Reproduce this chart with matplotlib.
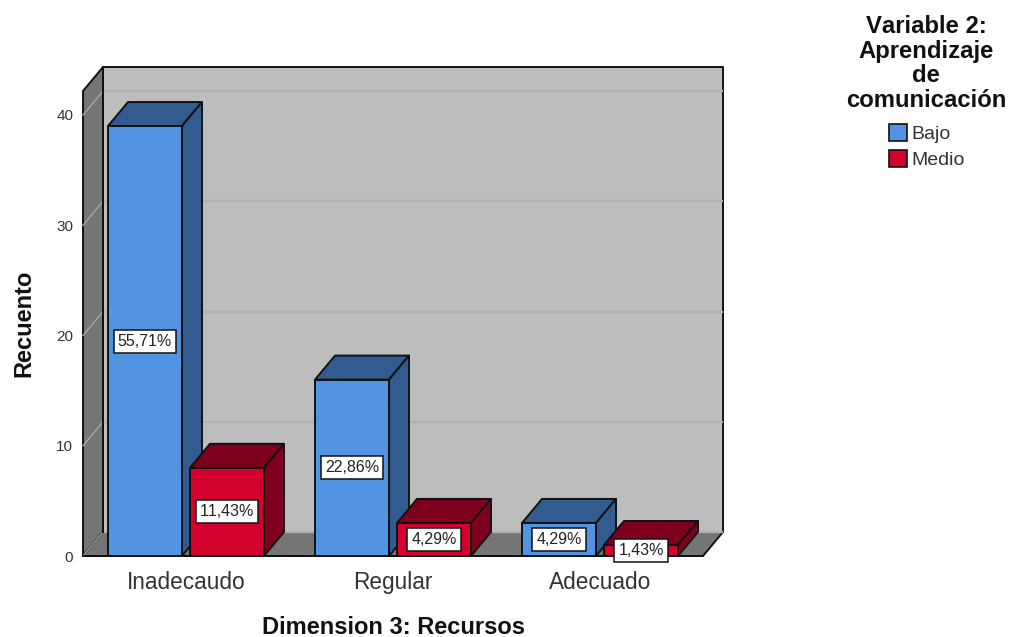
import matplotlib
matplotlib.use("Agg")
import matplotlib.pyplot as plt
from matplotlib.patches import Patch, Polygon

plt.rcParams["font.family"] = ["Liberation Sans", "DejaVu Sans"]
plt.rcParams["text.kerning_factor"] = 6

# ---------------------------------------------------------------------------
# Data
# ---------------------------------------------------------------------------
categories = ["Inadecaudo", "Regular", "Adecuado"]
series_names = ["Bajo", "Medio"]
bajo_counts = [39, 16, 3]
medio_counts = [8, 3, 1]
bajo_labels = ["55,71%", "22,86%", "4,29%"]
medio_labels = ["11,43%", "4,29%", "1,43%"]
y_ticks = [0, 10, 20, 30, 40]

# ---------------------------------------------------------------------------
# Style
# ---------------------------------------------------------------------------
W, H = 1009, 637
WALL = "#bdbdbd"
SIDE_WALL = "#757575"
GRID_BACK = "#b1b1b1"
GRID_SIDE = "#a8a8a8"
BLUE = ("#5294e2", "#325c8f")
RED = ("#d3002d", "#7f001c")
TEXT = "#333333"

fig = plt.figure(figsize=(W / 100, H / 100), dpi=100)
# front plane of the 3D box: 83..703 px across, 556..91 px up
ax = fig.add_axes([83 / W, 1 - 556 / H, 620 / W, 465 / H])

px_x = 207.0   # pixels per category
px_y = 11.025  # pixels per count
ax.set_xlim(-103 / px_x, 2 + 103 / px_x)
ax.set_ylim(0, 465 / px_y)

DX = 20 / px_x   # depth of the box
DY = 24 / px_y
BAR_W = 74 / px_x
GAP = 8 / px_x
X0, X1 = ax.get_xlim()
Y1 = ax.get_ylim()[1]


def poly(points, color, edge="#111111", lw=1.4, z=2):
    ax.add_patch(Polygon(points, closed=True, facecolor=color, edgecolor=edge,
                         linewidth=lw, joinstyle="round", clip_on=False, zorder=z))


# walls and floor
poly([(X0 + DX, DY), (X1 + DX, DY), (X1 + DX, Y1 + DY), (X0 + DX, Y1 + DY)], WALL)
poly([(X0, 0), (X0 + DX, DY), (X0 + DX, Y1 + DY), (X0, Y1)], SIDE_WALL)
poly([(X0, 0), (X1, 0), (X1 + DX, DY), (X0 + DX, DY)], SIDE_WALL)

for t in y_ticks:
    ax.plot([X0 + DX, X1 + DX - 0.004], [t + DY, t + DY], color=GRID_BACK, lw=1.6,
            clip_on=False, zorder=3)
    ax.plot([X0, X0 + DX], [t, t + DY], color=GRID_SIDE, lw=1.0,
            clip_on=False, zorder=3)
# wall edges go back over the grid lines
ax.plot([X0 + DX, X0 + DX], [DY, Y1 + DY], color="#111111", lw=1.4, clip_on=False, zorder=3)
ax.plot([X0, X1], [0, 0], color="#111111", lw=1.4, clip_on=False, zorder=3)


def bar3d(x, h, colors, z):
    x2 = x + BAR_W
    poly([(x, h), (x2, h), (x2 + DX, h + DY), (x + DX, h + DY)], colors[1], z=z)
    poly([(x2, 0), (x2 + DX, DY), (x2 + DX, h + DY), (x2, h)], colors[1], z=z)
    poly([(x, 0), (x2, 0), (x2, h), (x, h)], colors[0], z=z)


# bars, drawn left to right so nearer faces overlap the side faces
z = 4
for i, cat in enumerate(categories):
    for x, h, colors in [(i - GAP / 2 - BAR_W, bajo_counts[i], BLUE),
                         (i + GAP / 2, medio_counts[i], RED)]:
        bar3d(x, h, colors, z)
        z += 1

# percentage boxes stay on top of every bar
for i in range(len(categories)):
    for x, h, lab in [(i - GAP / 2 - BAR_W / 2, bajo_counts[i], bajo_labels[i]),
                      (i + GAP / 2 + BAR_W / 2, medio_counts[i], medio_labels[i])]:
        ax.text(x, h / 2, lab, ha="center", va="center", fontsize=11.5, color="#222222",
                zorder=30, clip_on=False,
                bbox=dict(boxstyle="square,pad=0.25", facecolor="white",
                          edgecolor="#111111", linewidth=1.1))

# axes, ticks, titles
for s in ax.spines.values():
    s.set_visible(False)
ax.patch.set_visible(False)
ax.set_yticks(y_ticks)
ax.set_xticks(range(len(categories)))
ax.set_xticklabels(categories, fontsize=16.3, color=TEXT)
ax.tick_params(axis="x", length=0, pad=11)
ax.tick_params(axis="y", length=0, pad=7, labelsize=11, labelcolor=TEXT)
ax.set_xlabel("Dimension 3: Recursos", fontsize=17, fontweight="bold", color="#111111")
ax.xaxis.set_label_coords(310 / 620, -60 / 465)
ax.set_ylabel("Recuento", fontsize=17, fontweight="bold", color="#111111")
ax.yaxis.set_label_coords(-48 / 620, 233 / 465)

# legend on the right
fig.text(926 / W, 1 - 15 / H, "Variable 2:\nAprendizaje\nde\ncomunicación", ha="center", va="top",
         fontsize=17.2, fontweight="bold", color="#111111", linespacing=1.09)
handles = [Patch(facecolor=BLUE[0], edgecolor="#111111", linewidth=1.2),
           Patch(facecolor=RED[0], edgecolor="#111111", linewidth=1.2)]
fig.legend(handles, series_names, loc="upper left", bbox_to_anchor=(883 / W, 1 - 118 / H),
           frameon=False, fontsize=14, labelcolor=TEXT, handlelength=0.95, handleheight=0.95,
           handletextpad=0.22, labelspacing=0.36, borderpad=0.3, borderaxespad=0)

fig.savefig("out.png", dpi=100)
